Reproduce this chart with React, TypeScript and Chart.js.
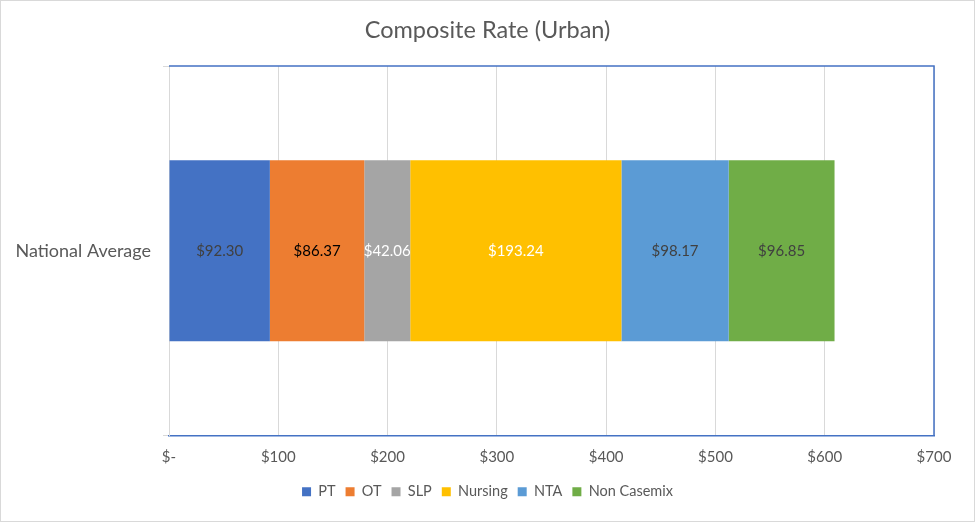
import React, { useEffect, useRef } from "react";
import { Chart, registerables } from "chart.js";

Chart.register(...registerables);

const categories = ["National Average"];
const seriesNames = ["PT", "OT", "SLP", "Nursing", "NTA", "Non Casemix"];
const seriesValues = [[92.3], [86.37], [42.06], [193.24], [98.17], [96.85]];
const seriesColors = ["#4472C4", "#ED7D31", "#A5A5A5", "#FFC000", "#5B9BD5", "#70AD47"];
const labelColors = ["#404040", "#000000", "#FFFFFF", "#FFFFFF", "#404040", "#404040"];
const xTickValues = [0, 100, 200, 300, 400, 500, 600, 700];
const title = "Composite Rate (Urban)";

const FONT = "Lato, 'Liberation Sans', sans-serif";

const fmtTick = (v: number) => (v === 0 ? "$-" : "$" + v);
const fmtVal = (v: number) => "$" + v.toFixed(2);

const dataLabelPlugin = {
  id: "dataLabels",
  afterDatasetsDraw(chart: any) {
    const ctx = chart.ctx;
    ctx.save();
    ctx.font = `15px ${FONT}`;
    ctx.textAlign = "center";
    ctx.textBaseline = "middle";
    chart.data.datasets.forEach((ds: any, i: number) => {
      const meta = chart.getDatasetMeta(i);
      meta.data.forEach((el: any, j: number) => {
        const cx = (el.x + el.base) / 2;
        ctx.fillStyle = labelColors[i];
        ctx.fillText(fmtVal(ds.data[j]), cx, el.y);
      });
    });
    ctx.restore();
  },
};

const borderAndTitlePlugin = {
  id: "plotBorder",
  afterDraw(chart: any) {
    const { ctx, chartArea, width } = chart;
    ctx.save();
    ctx.strokeStyle = "#4472C4";
    ctx.lineWidth = 1.5;
    ctx.beginPath();
    ctx.moveTo(chartArea.left, chartArea.top);
    ctx.lineTo(chartArea.right, chartArea.top);
    ctx.lineTo(chartArea.right, chartArea.bottom);
    ctx.stroke();
    ctx.fillStyle = "#595959";
    ctx.font = `23.5px ${FONT}`;
    ctx.textAlign = "center";
    ctx.textBaseline = "middle";
    ctx.fillText(title, width / 2, 29);
    ctx.restore();
  },
};

export default function App() {
  const ref = useRef<HTMLCanvasElement>(null);
  useEffect(() => {
    document.body.style.margin = "0";
    const chart = new Chart(ref.current!, {
      type: "bar",
      data: {
        labels: categories,
        datasets: seriesNames.map((name, i) => ({
          label: name,
          data: seriesValues[i],
          backgroundColor: seriesColors[i],
          borderWidth: 0,
          categoryPercentage: 1,
          barPercentage: 0.49,
        })),
      },
      options: {
        indexAxis: "y",
        animation: false,
        responsive: false,
        maintainAspectRatio: false,
        layout: { padding: { left: 0, right: 0, top: 65, bottom: 12 } },
        scales: {
          x: {
            stacked: true,
            min: 0,
            max: 700,
            afterBuildTicks: (scale: any) => {
              scale.ticks = xTickValues.map((v) => ({ value: v }));
            },
            afterFit: (scale: any) => {
              scale.height = 39;
            },
            ticks: {
              callback: (v: any) => fmtTick(Number(v)),
              color: "#595959",
              font: { family: FONT, size: 15 },
              padding: 13,
              maxRotation: 0,
            },
            grid: { color: "#D9D9D9", drawTicks: false },
            border: { color: "#4472C4", width: 1.5 },
          },
          y: {
            stacked: true,
            afterFit: (scale: any) => {
              scale.width = 168;
            },
            ticks: {
              color: "#595959",
              font: { family: FONT, size: 18 },
              padding: 12,
            },
            grid: { drawOnChartArea: false, drawTicks: true, tickLength: 6, color: "#D9D9D9" },
            border: { color: "#D9D9D9" },
          },
          yRight: {
            type: "category",
            position: "right",
            labels: categories,
            afterFit: (scale: any) => {
              scale.width = 40;
            },
            ticks: { display: false },
            grid: { display: false },
            border: { display: false },
          },
        },
        plugins: {
          title: { display: false },
          legend: {
            position: "bottom",
            labels: {
              boxWidth: 9,
              boxHeight: 9,
              color: "#595959",
              font: { family: FONT, size: 14.5 },
              padding: 10,
            },
          },
          tooltip: { enabled: false },
        },
      },
      plugins: [dataLabelPlugin, borderAndTitlePlugin],
    } as any);
    return () => chart.destroy();
  }, []);
  return (
    <div
      style={{
        position: "absolute",
        left: 0,
        top: 0,
        width: 975,
        height: 522,
        border: "1px solid #D9D9D9",
        boxSizing: "border-box",
        background: "#fff",
      }}
    >
      <canvas ref={ref} width={973} height={520} style={{ display: "block", width: 973, height: 520 }} />
    </div>
  );
}
